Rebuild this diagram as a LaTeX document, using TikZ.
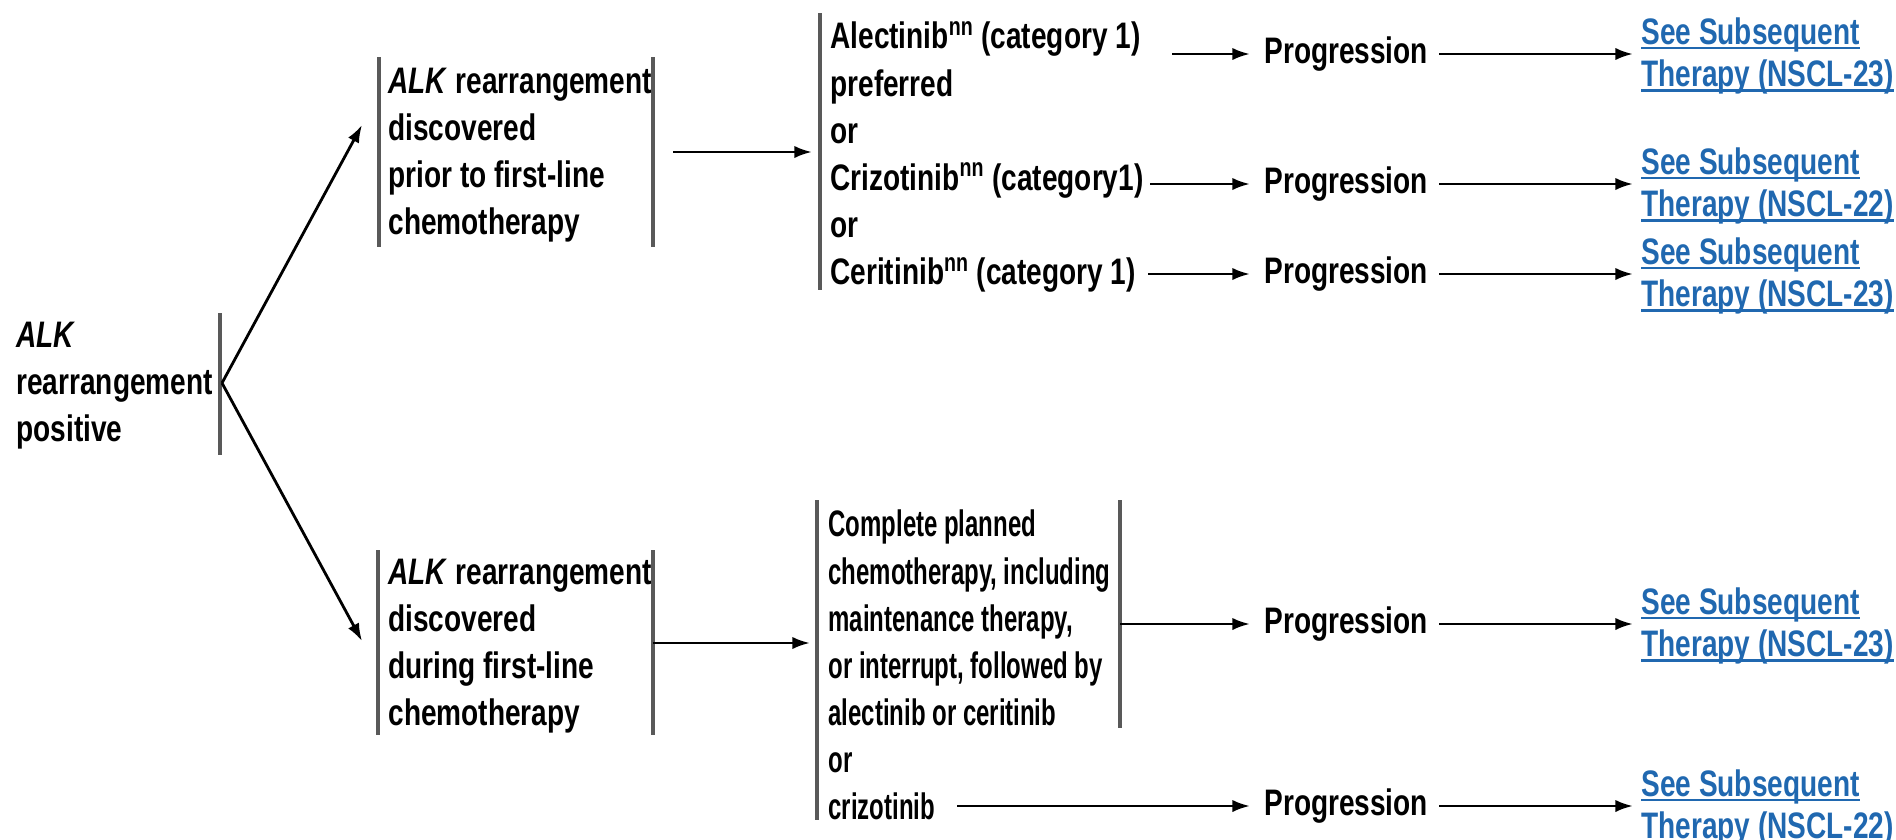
\documentclass[tikz,border=0pt]{standalone}
\usepackage{fontspec}
\setmainfont{Liberation Sans}[FakeStretch=0.76]
\newfontfamily\condensedfont{Liberation Sans}[FakeStretch=0.65]
\usepackage{tikz}
\usetikzlibrary{arrows.meta, positioning, calc}
\tikzset{>={Latex[length=10pt,width=7pt]}}
\definecolor{linkblue}{RGB}{32,104,176}
\newcommand\linkul[1]{\setbox0=\hbox{#1}\rlap{\rule[-2.6pt]{\wd0}{1.2pt}}\box0}
\tikzset{
    txt/.style={inner sep=0pt, anchor=west, align=left, font=\bfseries\fontsize{21}{26.8}\selectfont},
    txtnarrow/.style={txt, font=\condensedfont\bfseries\fontsize{21}{47.5}\selectfont},
    link/.style={txt, text=linkblue, font=\bfseries\fontsize{21}{24.4}\selectfont},
    bar/.style={draw=black!65, line width=1.8pt},
}

\begin{document}
\begin{tikzpicture}[x=0.02cm,y=-0.02cm,line width=1.6pt]
    \useasboundingbox (0,0) rectangle (1896,839);
    % first column
    \node[txt] (alk) at (15,386) {\textit{ALK}\\rearrangement\\positive};
    \node[txt] (prior) at (387,155) {\textit{ALK} rearrangement\\discovered\\prior to first-line\\chemotherapy};
    \node[txt] (during) at (387,646) {\textit{ALK} rearrangement\\discovered\\during first-line\\chemotherapy};
    % treatments
    \node[txt] (drugs) at (829,157) {Alectinib\textsuperscript{nn} (category 1)\\preferred\\or\\Crizotinib\textsuperscript{nn} (category1)\\or\\Ceritinib\textsuperscript{nn} (category 1)};
    \node[txt] (chemo) at (827,665) {{\condensedfont Complete planned}\\{\condensedfont chemotherapy, including}\\{\condensedfont maintenance therapy,}\\{\condensedfont or interrupt, followed by}\\{\condensedfont alectinib or ceritinib}\\{\condensedfont or}\\{\condensedfont crizotinib}};
    % progression
    \node[txt] (p1) at (1263,54) {Progression};
    \node[txt] (p2) at (1263,184) {Progression};
    \node[txt] (p3) at (1263,274) {Progression};
    \node[txt] (p4) at (1263,624) {Progression};
    \node[txt] (p5) at (1263,806) {Progression};
    % links
    \node[link] (s1) at (1640,56) {\linkul{See Subsequent}\\\linkul{Therapy (NSCL-23)}};
    \node[link] (s2) at (1640,186) {\linkul{See Subsequent}\\\linkul{Therapy (NSCL-22)}};
    \node[link] (s3) at (1640,276) {\linkul{See Subsequent}\\\linkul{Therapy (NSCL-23)}};
    \node[link] (s4) at (1640,626) {\linkul{See Subsequent}\\\linkul{Therapy (NSCL-23)}};
    \node[link] (s5) at (1640,808) {\linkul{See Subsequent}\\\linkul{Therapy (NSCL-22)}};
    % bars
    \draw[bar] (220,313) -- (220,455);
    \draw[bar] (379,57) -- (379,247) (653,57) -- (653,247);
    \draw[bar] (378,550) -- (378,735) (653,550) -- (653,735);
    \draw[bar] (820,13) -- (820,290);
    \draw[bar] (817,500) -- (817,820) (1120,500) -- (1120,728);
    % arrow ends
    \coordinate (fork) at (222,383);
    \coordinate (up) at (362,125);
    \coordinate (down) at (362,641);
    \coordinate (o2) at (673,152);
    \coordinate (i3) at (812,152);
    \coordinate (o4) at (653,643);
    \coordinate (i5) at (810,643);
    \coordinate (d1) at (1172,54);
    \coordinate (d2) at (1150,184);
    \coordinate (d3) at (1148,274);
    \coordinate (c1) at (1120,624);
    \coordinate (c2) at (957,806);
    \path[->]
        (fork)  edge (up)
                edge (down)
        (o2)    edge (i3)
        (o4)    edge (i5)
    ;
    \path[->,shorten >=0.26cm]
        (d1) edge (d1 -| p1.west)
        (d2) edge (d2 -| p2.west)
        (d3) edge (d3 -| p3.west)
        (c1) edge (c1 -| p4.west)
        (c2) edge (c2 -| p5.west)
    ;
    \path[->,shorten <=0.2cm,shorten >=0.14cm]
        (p1.east) edge (p1.east -| s1.west)
        (p2.east) edge (p2.east -| s2.west)
        (p3.east) edge (p3.east -| s3.west)
        (p4.east) edge (p4.east -| s4.west)
        (p5.east) edge (p5.east -| s5.west)
    ;
\end{tikzpicture}
\end{document}
